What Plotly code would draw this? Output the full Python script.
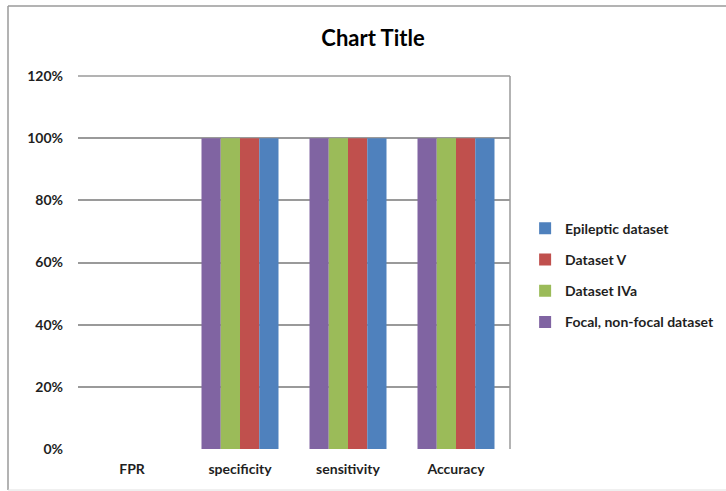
import plotly.graph_objects as go

categories = ["FPR", "specificity", "sensitivity", "Accuracy"]
series_names = ["Focal, non-focal dataset", "Dataset IVa", "Dataset V", "Epileptic dataset"]
focal = [0, 1.0, 1.0, 1.0]
iva = [0, 1.0, 1.0, 1.0]
dsv = [0, 1.0, 1.0, 1.0]
epileptic = [0, 1.0, 1.0, 1.0]
series_values = [focal, iva, dsv, epileptic]
colors = ["#8064A2", "#9BBB59", "#C0504D", "#4F81BD"]
legend_ranks = [4, 3, 2, 1]
y_ticks = [0, 0.2, 0.4, 0.6, 0.8, 1.0, 1.2]

FONT = "Lato, Open Sans, sans-serif"
TXT = "#1f1f1f"

fig = go.Figure()
for name, vals, col, rk in zip(series_names, series_values, colors, legend_ranks):
    fig.add_trace(go.Bar(
        x=categories, y=vals, name=f"<b>{name}</b>", legendgroup=name,
        legendrank=rk,
        marker=dict(color=col, line=dict(width=0)),
    ))

fig.update_layout(
    width=726, height=491,
    margin=dict(l=78, r=216, t=76, b=42, autoexpand=False),
    paper_bgcolor="white", plot_bgcolor="white",
    barmode="group", bargap=0.287, bargroupgap=0,
    font=dict(family=FONT, size=14, color=TXT),
    title=dict(text="<b>Chart Title</b>", x=373/726, xanchor="center",
               y=1 - 38/491, yanchor="middle", yref="container",
               font=dict(family=FONT, size=22, color="#000")),
    legend=dict(x=1.035, xanchor="left", y=0.466, yanchor="middle",
                traceorder="grouped", tracegroupgap=10, itemwidth=30,
                font=dict(family=FONT, size=14, color=TXT),
                bgcolor="rgba(0,0,0,0)"),
    showlegend=True,
)
fig.update_xaxes(showgrid=False, showline=False, zeroline=False,
                 ticks="", ticklabelstandoff=10,
                 tickvals=categories, ticktext=[f"<b>{c}</b>" for c in categories],
                 tickfont=dict(family=FONT, size=14, color=TXT))
fig.update_yaxes(range=[0, 1.2], tickvals=y_ticks,
                 ticktext=[f"<b>{int(round(v*100))}%</b>" for v in y_ticks],
                 showgrid=True, gridcolor="#9a9a9a", gridwidth=1.5,
                 zeroline=False, showline=False, ticks="",
                 ticklabelstandoff=14,
                 tickfont=dict(family=FONT, size=14, color=TXT))

# top gridline (120%) and plot-area right border
fig.add_shape(type="line", xref="paper", yref="paper", x0=0, x1=1, y0=1, y1=1,
              line=dict(color="#9a9a9a", width=1.5))
fig.add_shape(type="line", xref="paper", yref="paper", x0=1, x1=1, y0=0, y1=1,
              line=dict(color="#9a9a9a", width=1.5))
# outer chart border
L = (8 - 78) / 432
T = 1 + (76 - 6) / 373
B = (449 - 490) / 373
R = (726 - 78) / 432
fig.add_shape(type="line", xref="paper", yref="paper", x0=L, x1=L, y0=B, y1=T,
              line=dict(color="#9a9a9a", width=1.5))
fig.add_shape(type="line", xref="paper", yref="paper", x0=L, x1=R, y0=T, y1=T,
              line=dict(color="#9a9a9a", width=1.5))
fig.add_shape(type="line", xref="paper", yref="paper", x0=L, x1=R, y0=B, y1=B,
              line=dict(color="#e0e0e0", width=1))

fig.write_html("out.html")
